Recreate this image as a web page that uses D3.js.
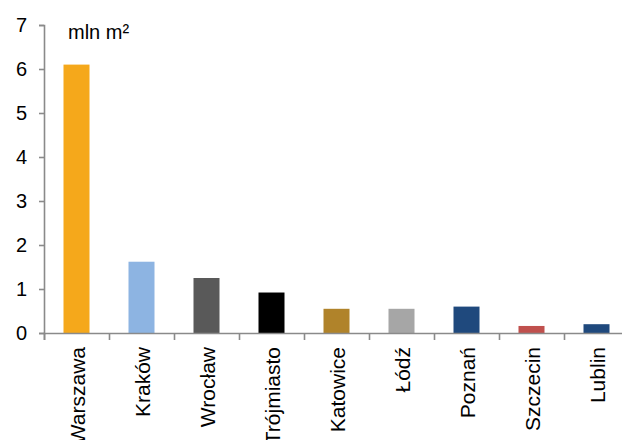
<!DOCTYPE html>
<html>
<head>
<meta charset="utf-8">
<script src="https://cdn.jsdelivr.net/npm/d3@7"></script>
<style>
  body { margin: 0; background: #fff; }
  svg text { font-family: "Liberation Sans", Arial, sans-serif; fill: #000; }
</style>
</head>
<body>
<svg id="canvas"></svg>
<script>
let cities = ['Warszawa','Kraków','Wrocław','Trójmiasto','Katowice','Łódź','Poznań','Szczecin','Lublin']
let values = [6.1, 1.62, 1.25, 0.92, 0.55, 0.55, 0.6, 0.16, 0.2]
let colors = ['#F5A81B','#8DB4E2','#595959','#000000','#B0832A','#A6A6A6','#1F497D','#C0504D','#1F497D']
let yTicks = [0,1,2,3,4,5,6,7]
let unitLabel = 'mln m²'

let width = 622
let height = 440
let plotLeft = 44
let plotRight = 629
let plotTop = 25
let plotBottom = 333
let axisColor = '#8a8a8a'

let canvas = d3.select('#canvas').attr('width', width).attr('height', height)

let xScale = d3.scaleBand()
  .domain(cities)
  .range([plotLeft, plotRight])
  .paddingInner(0.6)
  .paddingOuter(0.3)

// boundaries between categories, for the tick marks
let edgeScale = d3.scaleLinear().domain([0, cities.length]).range([plotLeft, plotRight])

let yScale = d3.scaleLinear().domain([0, 7]).range([plotBottom, plotTop])

// bars
canvas.append('g')
  .selectAll('rect')
  .data(cities)
  .enter()
  .append('rect')
  .attr('x', d => xScale(d))
  .attr('width', xScale.bandwidth())
  .attr('y', (d, i) => yScale(values[i]))
  .attr('height', (d, i) => yScale(0) - yScale(values[i]))
  .attr('fill', (d, i) => colors[i])

// y axis
let yAxis = d3.axisLeft(yScale)
  .tickValues(yTicks)
  .tickSize(5)
  .tickPadding(12)
  .tickFormat(d3.format('d'))

let yg = canvas.append('g')
  .attr('transform', `translate(${plotLeft},0)`)
  .call(yAxis)
yg.selectAll('path, line').attr('stroke', axisColor).attr('stroke-width', 1.6)
yg.selectAll('text').style('font-size', '20px').style('font-family', '"Liberation Sans", Arial, sans-serif').attr('fill', '#000')

// x axis (ticks at category boundaries)
let xAxis = d3.axisBottom(edgeScale)
  .tickValues(d3.range(cities.length + 1))
  .tickSize(7)
  .tickFormat('')

let xg = canvas.append('g')
  .attr('transform', `translate(0,${plotBottom})`)
  .call(xAxis)
xg.selectAll('path, line').attr('stroke', axisColor).attr('stroke-width', 1.6)

// category labels, rotated
canvas.append('g')
  .selectAll('text')
  .data(cities)
  .enter()
  .append('text')
  .attr('transform', d => `translate(${xScale(d) + xScale.bandwidth() / 2 + 8},${plotBottom + 14}) rotate(-90)`)
  .attr('text-anchor', 'end')
  .style('font-size', '21px')
  .text(d => d)

// unit label
canvas.append('text')
  .attr('x', 68)
  .attr('y', 39)
  .style('font-size', '20px')
  .text(unitLabel)
</script>
</body>
</html>
